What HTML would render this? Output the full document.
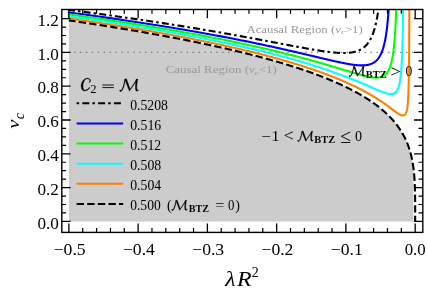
<!DOCTYPE html>
<html><head><meta charset="utf-8"><title>plot</title>
<style>
html,body{margin:0;padding:0;background:#fff;}
body{width:427px;height:298px;overflow:hidden;font-family:"Liberation Serif",serif;}
svg{display:block;will-change:transform;}
text{font-family:"Liberation Serif",serif;}
.it{font-style:italic;}
.b{font-weight:bold;}
</style></head><body>
<svg width="427" height="298" viewBox="0 0 427 298">
<rect x="0" y="0" width="427" height="298" fill="#fff"/>
<defs><clipPath id="ax"><rect x="61.8" y="9.5" width="361.0" height="222.9"/></clipPath></defs>

<path d="M68.87,20.42 L70.95,20.73 L73.02,21.03 L75.08,21.33 L77.13,21.63 L79.18,21.94 L81.21,22.24 L83.24,22.54 L85.26,22.85 L87.27,23.15 L89.28,23.45 L91.27,23.76 L93.26,24.06 L95.24,24.36 L97.21,24.67 L99.17,24.97 L101.12,25.28 L103.07,25.58 L105.01,25.89 L106.94,26.19 L108.86,26.50 L110.78,26.80 L112.68,27.11 L114.58,27.41 L116.47,27.72 L118.35,28.02 L120.23,28.33 L122.10,28.64 L123.96,28.94 L125.81,29.25 L127.65,29.56 L129.48,29.86 L131.31,30.17 L133.13,30.48 L134.94,30.78 L136.75,31.09 L138.54,31.40 L140.33,31.71 L142.11,32.02 L143.89,32.32 L145.65,32.63 L147.41,32.94 L149.16,33.25 L150.90,33.56 L152.64,33.87 L154.36,34.18 L156.08,34.49 L157.80,34.80 L159.50,35.10 L161.20,35.41 L162.89,35.72 L164.57,36.04 L166.24,36.35 L167.91,36.66 L169.57,36.97 L171.22,37.28 L172.87,37.59 L174.50,37.90 L176.13,38.21 L177.75,38.52 L179.37,38.84 L180.98,39.15 L182.58,39.46 L184.17,39.77 L185.76,40.08 L187.34,40.40 L188.91,40.71 L190.47,41.02 L192.03,41.34 L193.58,41.65 L195.12,41.96 L196.65,42.28 L198.18,42.59 L199.70,42.91 L201.22,43.22 L202.72,43.53 L204.22,43.85 L205.72,44.16 L207.20,44.48 L208.68,44.79 L210.15,45.11 L211.62,45.42 L213.07,45.74 L214.52,46.06 L215.97,46.37 L217.40,46.69 L218.83,47.01 L220.26,47.32 L221.67,47.64 L223.08,47.96 L224.48,48.27 L225.88,48.59 L227.27,48.91 L228.65,49.23 L230.02,49.55 L231.39,49.86 L232.75,50.18 L234.11,50.50 L235.46,50.82 L236.80,51.14 L238.13,51.46 L239.46,51.78 L240.78,52.10 L242.09,52.42 L243.40,52.74 L244.70,53.06 L246.00,53.38 L247.29,53.70 L248.57,54.02 L249.84,54.34 L251.11,54.66 L252.37,54.98 L253.63,55.31 L254.88,55.63 L256.12,55.95 L257.36,56.27 L258.59,56.60 L259.81,56.92 L261.03,57.24 L262.24,57.57 L263.44,57.89 L264.64,58.21 L265.83,58.54 L267.02,58.86 L268.19,59.18 L269.37,59.51 L270.53,59.83 L271.69,60.16 L272.85,60.48 L274.00,60.81 L275.14,61.14 L276.27,61.46 L277.40,61.79 L278.52,62.11 L279.64,62.44 L280.75,62.77 L281.86,63.09 L282.96,63.42 L284.05,63.75 L285.14,64.08 L286.22,64.40 L287.29,64.73 L288.36,65.06 L289.42,65.39 L290.48,65.72 L291.53,66.05 L292.57,66.38 L293.61,66.71 L294.65,67.03 L295.67,67.36 L296.69,67.70 L297.71,68.03 L298.72,68.36 L299.72,68.69 L300.72,69.02 L301.71,69.35 L302.70,69.68 L303.68,70.01 L304.66,70.35 L305.63,70.68 L306.59,71.01 L307.55,71.34 L308.50,71.68 L309.45,72.01 L310.39,72.34 L311.32,72.68 L312.25,73.01 L313.18,73.35 L314.10,73.68 L315.01,74.01 L315.92,74.35 L316.82,74.69 L317.72,75.02 L318.61,75.36 L319.49,75.69 L320.37,76.03 L321.25,76.37 L322.12,76.70 L322.98,77.04 L323.84,77.38 L324.70,77.71 L325.54,78.05 L326.39,78.39 L327.22,78.73 L328.06,79.07 L328.88,79.41 L329.71,79.75 L330.52,80.09 L331.33,80.43 L332.14,80.77 L332.94,81.11 L333.74,81.45 L334.53,81.79 L335.31,82.13 L336.09,82.47 L336.87,82.81 L337.64,83.15 L338.40,83.50 L339.16,83.84 L339.92,84.18 L340.67,84.53 L341.41,84.87 L342.15,85.21 L342.89,85.56 L343.62,85.90 L344.34,86.25 L345.06,86.59 L345.78,86.94 L346.49,87.28 L347.20,87.63 L347.90,87.97 L348.59,88.32 L349.28,88.67 L349.97,89.01 L350.65,89.36 L351.33,89.71 L352.00,90.06 L352.67,90.40 L353.33,90.75 L353.99,91.10 L354.64,91.45 L355.29,91.80 L355.93,92.15 L356.57,92.50 L357.21,92.85 L357.84,93.20 L358.46,93.55 L359.08,93.90 L359.70,94.26 L360.31,94.61 L360.92,94.96 L361.52,95.31 L362.12,95.67 L362.71,96.02 L363.30,96.37 L363.89,96.73 L364.47,97.08 L365.04,97.44 L365.62,97.79 L366.18,98.15 L366.75,98.50 L367.31,98.86 L367.86,99.21 L368.41,99.57 L368.96,99.93 L369.50,100.29 L370.04,100.64 L370.57,101.00 L371.10,101.36 L371.62,101.72 L372.14,102.08 L372.66,102.44 L373.17,102.80 L373.68,103.16 L374.18,103.52 L374.68,103.88 L375.18,104.24 L375.67,104.60 L376.16,104.97 L376.64,105.33 L377.12,105.69 L377.60,106.05 L378.07,106.42 L378.54,106.78 L379.00,107.15 L379.46,107.51 L379.92,107.88 L380.37,108.24 L380.82,108.61 L381.26,108.97 L381.70,109.34 L382.14,109.71 L382.57,110.08 L383.00,110.44 L383.42,110.81 L383.84,111.18 L384.26,111.55 L384.68,111.92 L385.09,112.29 L385.49,112.66 L385.90,113.03 L386.30,113.40 L386.69,113.77 L387.08,114.15 L387.47,114.52 L387.86,114.89 L388.24,115.27 L388.61,115.64 L388.99,116.01 L389.36,116.39 L389.73,116.76 L390.09,117.14 L390.45,117.52 L390.81,117.89 L391.16,118.27 L391.51,118.65 L391.85,119.03 L392.20,119.40 L392.54,119.78 L392.87,120.16 L393.21,120.54 L393.54,120.92 L393.86,121.30 L394.18,121.68 L394.50,122.07 L394.82,122.45 L395.13,122.83 L395.44,123.22 L395.75,123.60 L396.05,123.98 L396.35,124.37 L396.65,124.75 L396.94,125.14 L397.24,125.53 L397.52,125.91 L397.81,126.30 L398.09,126.69 L398.37,127.08 L398.64,127.46 L398.92,127.85 L399.19,128.24 L399.45,128.64 L399.71,129.03 L399.98,129.42 L400.23,129.81 L400.49,130.20 L400.74,130.60 L400.99,130.99 L401.23,131.38 L401.48,131.78 L401.72,132.18 L401.95,132.57 L402.19,132.97 L402.42,133.37 L402.65,133.76 L402.88,134.16 L403.10,134.56 L403.32,134.96 L403.54,135.36 L403.75,135.76 L403.97,136.17 L404.18,136.57 L404.38,136.97 L404.59,137.37 L404.79,137.78 L404.99,138.18 L405.19,138.59 L405.38,139.00 L405.57,139.40 L405.76,139.81 L405.95,140.22 L406.13,140.63 L406.32,141.04 L406.50,141.45 L406.67,141.86 L406.85,142.27 L407.02,142.68 L407.19,143.10 L407.36,143.51 L407.52,143.92 L407.68,144.34 L407.85,144.76 L408.00,145.17 L408.16,145.59 L408.31,146.01 L408.46,146.43 L408.61,146.85 L408.76,147.27 L408.90,147.69 L409.05,148.11 L409.19,148.54 L409.33,148.96 L409.46,149.39 L409.59,149.81 L409.73,150.24 L409.86,150.66 L409.98,151.09 L410.11,151.52 L410.23,151.95 L410.35,152.38 L410.47,152.82 L410.59,153.25 L410.71,153.68 L410.82,154.12 L410.93,154.55 L411.04,154.99 L411.15,155.43 L411.25,155.86 L411.36,156.30 L411.46,156.74 L411.56,157.18 L411.66,157.63 L411.76,158.07 L411.85,158.51 L411.94,158.96 L412.03,159.41 L412.12,159.85 L412.21,160.30 L412.30,160.75 L412.38,161.20 L412.47,161.66 L412.55,162.11 L412.63,162.56 L412.70,163.02 L412.78,163.48 L412.86,163.93 L412.93,164.39 L413.00,164.85 L413.07,165.31 L413.14,165.78 L413.21,166.24 L413.27,166.71 L413.33,167.17 L413.40,167.64 L413.46,168.11 L413.50,168.44 L413.50,221.40 L68.87,221.40 Z" fill="#cccccc" stroke="none" clip-path="url(#ax)"/>
<line x1="62.10" y1="52.40" x2="422.8" y2="52.40" stroke="#7a7a7a" stroke-width="1.3" stroke-dasharray="1.4 4.53"/>
<g clip-path="url(#ax)" fill="none" stroke-width="2.1" stroke-linejoin="round">
<path d="M68.87,9.92 L70.77,10.16 L72.67,10.41 L74.56,10.65 L76.44,10.90 L78.32,11.14 L80.19,11.39 L82.04,11.63 L83.90,11.88 L85.74,12.12 L87.58,12.37 L89.41,12.61 L91.23,12.85 L93.04,13.10 L94.85,13.34 L96.65,13.58 L98.44,13.83 L100.23,14.07 L102.00,14.31 L103.77,14.55 L105.54,14.80 L107.29,15.04 L109.04,15.28 L110.78,15.52 L112.51,15.76 L114.24,16.00 L115.96,16.24 L117.67,16.48 L119.37,16.72 L121.07,16.96 L122.76,17.20 L124.44,17.44 L126.12,17.68 L127.78,17.92 L129.45,18.16 L131.10,18.40 L132.75,18.64 L134.39,18.87 L136.02,19.11 L137.64,19.35 L139.26,19.59 L140.87,19.82 L142.48,20.06 L144.08,20.30 L145.67,20.53 L147.25,20.77 L148.83,21.01 L150.40,21.24 L151.96,21.48 L153.51,21.71 L155.06,21.95 L156.61,22.18 L158.14,22.41 L159.67,22.65 L161.19,22.88 L162.70,23.11 L164.21,23.35 L165.71,23.58 L167.21,23.81 L168.70,24.04 L170.18,24.27 L171.65,24.50 L173.12,24.73 L174.58,24.96 L176.03,25.19 L177.48,25.42 L178.92,25.65 L180.35,25.88 L181.78,26.11 L183.20,26.34 L184.62,26.57 L186.02,26.79 L187.42,27.02 L188.82,27.25 L190.21,27.47 L191.59,27.70 L192.96,27.92 L194.33,28.15 L195.69,28.37 L197.05,28.60 L198.40,28.82 L199.74,29.05 L201.08,29.27 L202.41,29.49 L203.73,29.71 L205.05,29.93 L206.36,30.16 L207.66,30.38 L208.96,30.60 L210.25,30.82 L211.54,31.04 L212.81,31.25 L214.09,31.47 L215.35,31.69 L216.62,31.91 L217.87,32.12 L219.12,32.34 L220.36,32.56 L221.59,32.77 L222.82,32.99 L224.05,33.20 L225.27,33.41 L226.48,33.63 L227.68,33.84 L228.88,34.05 L230.07,34.26 L231.26,34.47 L232.44,34.69 L233.62,34.89 L234.79,35.10 L235.95,35.31 L237.11,35.52 L238.26,35.73 L239.40,35.93 L240.54,36.14 L241.67,36.35 L242.80,36.55 L243.92,36.76 L245.04,36.96 L246.15,37.16 L247.25,37.36 L248.35,37.57 L249.44,37.77 L250.53,37.97 L251.61,38.17 L252.69,38.36 L253.75,38.56 L254.82,38.76 L255.88,38.96 L256.93,39.15 L257.98,39.35 L259.02,39.54 L260.05,39.73 L261.08,39.93 L262.11,40.12 L263.12,40.31 L264.14,40.50 L265.14,40.69 L266.15,40.88 L267.14,41.07 L268.13,41.25 L269.12,41.44 L270.10,41.62 L271.07,41.81 L272.04,41.99 L273.00,42.17 L273.96,42.36 L274.91,42.54 L275.86,42.72 L276.80,42.89 L277.74,43.07 L278.67,43.25 L279.60,43.43 L280.52,43.60 L281.43,43.77 L282.34,43.95 L283.25,44.12 L284.14,44.29 L285.04,44.46 L285.93,44.63 L286.81,44.79 L287.69,44.96 L288.56,45.13 L289.43,45.29 L290.29,45.45 L291.15,45.61 L292.00,45.78 L292.85,45.93 L293.69,46.09 L294.53,46.25 L295.36,46.41 L296.19,46.56 L297.01,46.71 L297.83,46.87 L298.64,47.02 L299.45,47.17 L300.25,47.31 L301.05,47.46 L301.84,47.60 L302.63,47.75 L303.41,47.89 L304.19,48.03 L304.96,48.17 L305.73,48.31 L306.49,48.45 L307.25,48.58 L308.00,48.72 L308.75,48.85 L309.50,48.98 L310.24,49.11 L310.97,49.23 L311.70,49.36 L312.42,49.48 L313.14,49.61 L313.86,49.73 L314.57,49.85 L315.28,49.96 L315.98,50.08 L316.67,50.19 L317.37,50.30 L318.05,50.41 L318.74,50.52 L319.42,50.63 L320.09,50.73 L320.76,50.84 L321.42,50.94 L322.08,51.03 L322.74,51.13 L323.39,51.23 L324.04,51.32 L324.68,51.41 L325.32,51.50 L325.95,51.58 L326.58,51.67 L327.21,51.75 L327.83,51.83 L328.44,51.91 L329.05,51.98 L329.66,52.05 L330.27,52.12 L330.86,52.19 L331.46,52.26 L332.05,52.32 L332.64,52.38 L333.22,52.44 L333.79,52.49 L334.37,52.54 L334.94,52.59 L335.50,52.64 L336.06,52.68 L336.62,52.73 L337.17,52.77 L337.72,52.80 L338.27,52.83 L338.81,52.86 L339.34,52.89 L339.87,52.91 L340.40,52.94 L340.93,52.95 L341.45,52.97 L341.96,52.98 L342.48,52.99 L342.98,52.99 L343.49,52.99 L343.99,52.99 L344.48,52.99 L344.98,52.98 L345.47,52.96 L345.95,52.95 L346.43,52.93 L346.91,52.90 L347.38,52.88 L347.85,52.84 L348.32,52.81 L348.78,52.77 L349.24,52.73 L349.69,52.68 L350.14,52.63 L350.59,52.57 L351.03,52.51 L351.47,52.45 L351.91,52.38 L352.34,52.30 L352.77,52.22 L353.20,52.14 L353.62,52.05 L354.04,51.96 L354.45,51.86 L354.86,51.76 L355.27,51.65 L355.67,51.54 L356.07,51.42 L356.47,51.30 L356.86,51.17 L357.25,51.03 L357.64,50.89 L358.02,50.74 L358.40,50.59 L358.78,50.43 L359.15,50.27 L359.52,50.10 L359.88,49.92 L360.25,49.74 L360.61,49.55 L360.96,49.36 L361.32,49.15 L361.66,48.94 L362.01,48.73 L362.35,48.50 L362.69,48.27 L363.03,48.04 L363.36,47.79 L363.69,47.54 L364.02,47.28 L364.34,47.01 L364.66,46.73 L364.98,46.45 L365.30,46.15 L365.61,45.85 L365.92,45.54 L366.22,45.22 L366.52,44.89 L366.82,44.56 L367.12,44.21 L367.41,43.85 L367.70,43.49 L367.99,43.11 L368.27,42.73 L368.55,42.33 L368.83,41.92 L369.11,41.50 L369.38,41.08 L369.65,40.64 L369.91,40.19 L370.18,39.72 L370.44,39.25 L370.70,38.76 L370.95,38.26 L371.21,37.75 L371.46,37.23 L371.70,36.69 L371.95,36.14 L372.19,35.58 L372.43,35.00 L372.66,34.41 L372.90,33.80 L373.13,33.18 L373.36,32.54 L373.58,31.89 L373.80,31.22 L374.02,30.54 L374.24,29.84 L374.46,29.12 L374.67,28.39 L374.88,27.63 L375.09,26.86 L375.29,26.08 L375.49,25.27 L375.69,24.44 L375.89,23.59 L376.09,22.73 L376.28,21.84 L376.47,20.93 L376.66,20.00 L376.84,19.05 L377.02,18.07 L377.21,17.08 L377.38,16.06 L377.56,15.01 L377.73,13.94 L377.90,12.84 L378.07,11.72 L378.24,10.57 L378.41,9.39 L378.57,8.19 L378.73,6.95 L378.89,5.69 L379.04,4.40 L379.19,3.07 L379.35,1.72 L379.49,0.33 L379.64,-1.09 L379.79,-2.55 L379.93,-4.04 L380.07,-5.57 L380.21,-7.14 L380.35,-8.74 L380.48,-10.38 L380.61,-12.07 L380.74,-13.79 L380.87,-15.56 L381.00,-17.37 L381.12,-19.23 L381.25,-21.13 L381.37,-23.08 L381.49,-25.08 L381.60,-27.12 L381.72,-29.23 L381.83,-31.38 L381.94,-33.59 L382.05,-35.85 L382.16,-38.18 L382.26,-40.56 L382.37,-43.01 L382.47,-45.51 L382.57,-48.09" stroke="#000" stroke-dasharray="7.0 3.1 2.5 3.2" stroke-dashoffset="0.9"/>
<path d="M68.87,12.44 L70.81,12.70 L72.75,12.96 L74.68,13.22 L76.60,13.48 L78.52,13.74 L80.42,13.99 L82.32,14.25 L84.21,14.51 L86.09,14.77 L87.97,15.03 L89.84,15.29 L91.70,15.54 L93.55,15.80 L95.39,16.06 L97.23,16.32 L99.06,16.58 L100.88,16.83 L102.70,17.09 L104.50,17.35 L106.30,17.61 L108.09,17.86 L109.88,18.12 L111.66,18.38 L113.43,18.63 L115.19,18.89 L116.94,19.15 L118.69,19.40 L120.43,19.66 L122.16,19.91 L123.89,20.17 L125.60,20.43 L127.32,20.68 L129.02,20.94 L130.71,21.19 L132.40,21.45 L134.08,21.70 L135.76,21.96 L137.43,22.21 L139.08,22.47 L140.74,22.72 L142.38,22.97 L144.02,23.23 L145.65,23.48 L147.28,23.74 L148.89,23.99 L150.50,24.24 L152.10,24.49 L153.70,24.75 L155.29,25.00 L156.87,25.25 L158.44,25.51 L160.01,25.76 L161.57,26.01 L163.12,26.26 L164.67,26.51 L166.21,26.76 L167.74,27.02 L169.27,27.27 L170.79,27.52 L172.30,27.77 L173.80,28.02 L175.30,28.27 L176.79,28.52 L178.28,28.77 L179.75,29.02 L181.22,29.27 L182.69,29.52 L184.14,29.76 L185.60,30.01 L187.04,30.26 L188.48,30.51 L189.91,30.76 L191.33,31.00 L192.75,31.25 L194.16,31.50 L195.56,31.75 L196.96,31.99 L198.35,32.24 L199.73,32.48 L201.11,32.73 L202.48,32.98 L203.84,33.22 L205.20,33.47 L206.55,33.71 L207.90,33.95 L209.24,34.20 L210.57,34.44 L211.89,34.69 L213.21,34.93 L214.52,35.17 L215.83,35.41 L217.13,35.66 L218.42,35.90 L219.71,36.14 L220.99,36.38 L222.26,36.62 L223.53,36.86 L224.79,37.10 L226.05,37.34 L227.30,37.58 L228.54,37.82 L229.78,38.06 L231.01,38.30 L232.23,38.53 L233.45,38.77 L234.66,39.01 L235.87,39.24 L237.07,39.48 L238.26,39.72 L239.45,39.95 L240.63,40.19 L241.80,40.42 L242.97,40.66 L244.14,40.89 L245.29,41.12 L246.44,41.36 L247.59,41.59 L248.73,41.82 L249.86,42.05 L250.99,42.28 L252.11,42.51 L253.22,42.74 L254.33,42.97 L255.44,43.20 L256.54,43.43 L257.63,43.66 L258.71,43.89 L259.79,44.11 L260.87,44.34 L261.94,44.57 L263.00,44.79 L264.06,45.02 L265.11,45.24 L266.15,45.47 L267.19,45.69 L268.23,45.91 L269.25,46.14 L270.28,46.36 L271.29,46.58 L272.31,46.80 L273.31,47.02 L274.31,47.24 L275.31,47.46 L276.30,47.67 L277.28,47.89 L278.26,48.11 L279.23,48.32 L280.20,48.54 L281.16,48.76 L282.11,48.97 L283.06,49.18 L284.01,49.40 L284.95,49.61 L285.88,49.82 L286.81,50.03 L287.74,50.24 L288.65,50.45 L289.57,50.66 L290.47,50.86 L291.38,51.07 L292.27,51.28 L293.16,51.48 L294.05,51.69 L294.93,51.89 L295.81,52.09 L296.68,52.29 L297.54,52.50 L298.40,52.70 L299.26,52.90 L300.11,53.09 L300.95,53.29 L301.79,53.49 L302.62,53.68 L303.45,53.88 L304.28,54.07 L305.10,54.27 L305.91,54.46 L306.72,54.65 L307.52,54.84 L308.32,55.03 L309.12,55.22 L309.91,55.40 L310.69,55.59 L311.47,55.77 L312.24,55.96 L313.01,56.14 L313.78,56.32 L314.54,56.50 L315.29,56.68 L316.04,56.86 L316.78,57.04 L317.52,57.21 L318.26,57.39 L318.99,57.56 L319.72,57.73 L320.44,57.90 L321.15,58.07 L321.86,58.24 L322.57,58.41 L323.27,58.57 L323.97,58.74 L324.66,58.90 L325.35,59.06 L326.03,59.22 L326.71,59.38 L327.39,59.54 L328.06,59.70 L328.72,59.85 L329.38,60.00 L330.04,60.15 L330.69,60.30 L331.34,60.45 L331.98,60.60 L332.62,60.74 L333.25,60.89 L333.88,61.03 L334.50,61.17 L335.12,61.31 L335.74,61.45 L336.35,61.58 L336.96,61.71 L337.56,61.84 L338.16,61.97 L338.75,62.10 L339.34,62.23 L339.93,62.35 L340.51,62.47 L341.09,62.59 L341.66,62.71 L342.23,62.83 L342.79,62.94 L343.35,63.05 L343.91,63.16 L344.46,63.27 L345.01,63.38 L345.55,63.48 L346.09,63.58 L346.62,63.68 L347.16,63.78 L347.68,63.87 L348.21,63.96 L348.72,64.05 L349.24,64.14 L349.75,64.22 L350.26,64.30 L350.76,64.38 L351.26,64.46 L351.75,64.53 L352.25,64.60 L352.73,64.67 L353.22,64.74 L353.69,64.80 L354.17,64.86 L354.64,64.92 L355.11,64.97 L355.57,65.02 L356.03,65.07 L356.49,65.11 L356.94,65.15 L357.39,65.19 L357.84,65.23 L358.28,65.26 L358.72,65.29 L359.15,65.31 L359.58,65.33 L360.01,65.35 L360.43,65.36 L360.85,65.38 L361.27,65.38 L361.68,65.38 L362.09,65.38 L362.49,65.38 L362.89,65.37 L363.29,65.36 L363.69,65.34 L364.08,65.32 L364.46,65.29 L364.85,65.26 L365.23,65.23 L365.61,65.19 L365.98,65.14 L366.35,65.10 L366.72,65.04 L367.08,64.98 L367.44,64.92 L367.80,64.85 L368.15,64.78 L368.50,64.70 L368.85,64.62 L369.19,64.53 L369.53,64.43 L369.87,64.33 L370.20,64.23 L370.53,64.12 L370.86,64.00 L371.18,63.87 L371.50,63.75 L371.82,63.61 L372.14,63.47 L372.45,63.32 L372.76,63.16 L373.06,63.00 L373.36,62.83 L373.66,62.65 L373.96,62.47 L374.25,62.28 L374.54,62.08 L374.83,61.87 L375.11,61.66 L375.39,61.44 L375.67,61.21 L375.95,60.97 L376.22,60.72 L376.49,60.47 L376.76,60.20 L377.02,59.93 L377.28,59.65 L377.54,59.36 L377.79,59.06 L378.04,58.74 L378.29,58.42 L378.54,58.09 L378.78,57.75 L379.03,57.40 L379.26,57.04 L379.50,56.66 L379.73,56.28 L379.96,55.88 L380.19,55.47 L380.41,55.05 L380.64,54.62 L380.86,54.17 L381.07,53.72 L381.29,53.24 L381.50,52.76 L381.71,52.26 L381.92,51.75 L382.12,51.22 L382.32,50.68 L382.52,50.12 L382.72,49.55 L382.91,48.96 L383.10,48.35 L383.29,47.73 L383.48,47.09 L383.66,46.44 L383.84,45.76 L384.02,45.07 L384.20,44.36 L384.38,43.63 L384.55,42.88 L384.72,42.11 L384.89,41.32 L385.05,40.51 L385.22,39.67 L385.38,38.81 L385.54,37.94 L385.69,37.03 L385.85,36.11 L386.00,35.15 L386.15,34.18 L386.30,33.17 L386.44,32.14 L386.59,31.09 L386.73,30.00 L386.87,28.88 L387.01,27.74 L387.14,26.56 L387.27,25.36 L387.41,24.12 L387.54,22.84 L387.66,21.54 L387.79,20.19 L387.91,18.82 L388.03,17.40 L388.15,15.94 L388.27,14.45 L388.38,12.91 L388.50,11.34 L388.61,9.72 L388.72,8.05 L388.83,6.34 L388.93,4.58 L389.04,2.78 L389.14,0.92 L389.24,-0.99 L389.34,-2.95 L389.44,-4.97 L389.53,-7.05 L389.63,-9.18 L389.72,-11.38 L389.81,-13.63 L389.90,-15.96 L389.99,-18.35 L390.07,-20.81 L390.16,-23.34 L390.24,-25.94 L390.32,-28.63 L390.40,-31.39 L390.47,-34.24 L390.55,-37.17 L390.63,-40.19 L390.70,-43.30 L390.77,-46.50" stroke="#0000ff" stroke-linecap="square"/>
<path d="M68.87,14.47 L70.85,14.74 L72.82,15.01 L74.78,15.28 L76.73,15.55 L78.68,15.82 L80.62,16.09 L82.55,16.36 L84.47,16.63 L86.39,16.90 L88.30,17.17 L90.20,17.44 L92.09,17.71 L93.97,17.98 L95.85,18.25 L97.72,18.52 L99.58,18.79 L101.43,19.06 L103.28,19.33 L105.11,19.59 L106.94,19.86 L108.77,20.13 L110.58,20.40 L112.39,20.67 L114.19,20.94 L115.98,21.21 L117.76,21.48 L119.54,21.75 L121.31,22.02 L123.07,22.28 L124.83,22.55 L126.57,22.82 L128.31,23.09 L130.05,23.36 L131.77,23.63 L133.49,23.90 L135.20,24.16 L136.90,24.43 L138.60,24.70 L140.28,24.97 L141.97,25.24 L143.64,25.50 L145.31,25.77 L146.96,26.04 L148.62,26.31 L150.26,26.57 L151.90,26.84 L153.53,27.11 L155.15,27.38 L156.76,27.64 L158.37,27.91 L159.97,28.18 L161.57,28.44 L163.16,28.71 L164.73,28.98 L166.31,29.24 L167.87,29.51 L169.43,29.78 L170.98,30.04 L172.53,30.31 L174.07,30.57 L175.60,30.84 L177.12,31.11 L178.64,31.37 L180.15,31.64 L181.65,31.90 L183.14,32.17 L184.63,32.43 L186.12,32.70 L187.59,32.96 L189.06,33.23 L190.52,33.49 L191.98,33.76 L193.42,34.02 L194.86,34.28 L196.30,34.55 L197.73,34.81 L199.15,35.08 L200.56,35.34 L201.97,35.60 L203.37,35.87 L204.76,36.13 L206.15,36.39 L207.53,36.65 L208.91,36.92 L210.27,37.18 L211.63,37.44 L212.99,37.70 L214.34,37.97 L215.68,38.23 L217.01,38.49 L218.34,38.75 L219.66,39.01 L220.98,39.27 L222.29,39.53 L223.59,39.79 L224.89,40.05 L226.18,40.31 L227.46,40.57 L228.74,40.83 L230.01,41.09 L231.27,41.35 L232.53,41.61 L233.78,41.87 L235.02,42.13 L236.26,42.38 L237.50,42.64 L238.72,42.90 L239.94,43.16 L241.16,43.41 L242.36,43.67 L243.56,43.93 L244.76,44.18 L245.95,44.44 L247.13,44.70 L248.31,44.95 L249.48,45.21 L250.64,45.46 L251.80,45.72 L252.95,45.97 L254.10,46.23 L255.24,46.48 L256.38,46.73 L257.50,46.99 L258.63,47.24 L259.74,47.49 L260.85,47.74 L261.96,48.00 L263.06,48.25 L264.15,48.50 L265.24,48.75 L266.32,49.00 L267.39,49.25 L268.46,49.50 L269.52,49.75 L270.58,50.00 L271.63,50.25 L272.68,50.50 L273.72,50.74 L274.75,50.99 L275.78,51.24 L276.81,51.48 L277.82,51.73 L278.84,51.98 L279.84,52.22 L280.84,52.47 L281.84,52.71 L282.83,52.96 L283.81,53.20 L284.79,53.44 L285.76,53.69 L286.73,53.93 L287.69,54.17 L288.64,54.41 L289.59,54.65 L290.54,54.89 L291.48,55.13 L292.41,55.37 L293.34,55.61 L294.26,55.85 L295.18,56.09 L296.09,56.33 L297.00,56.56 L297.90,56.80 L298.79,57.04 L299.69,57.27 L300.57,57.51 L301.45,57.74 L302.33,57.97 L303.20,58.21 L304.06,58.44 L304.92,58.67 L305.77,58.90 L306.62,59.13 L307.46,59.36 L308.30,59.59 L309.14,59.82 L309.96,60.05 L310.79,60.27 L311.60,60.50 L312.42,60.73 L313.22,60.95 L314.03,61.18 L314.82,61.40 L315.62,61.62 L316.40,61.84 L317.19,62.07 L317.96,62.29 L318.73,62.51 L319.50,62.72 L320.26,62.94 L321.02,63.16 L321.78,63.38 L322.52,63.59 L323.27,63.81 L324.00,64.02 L324.74,64.23 L325.47,64.45 L326.19,64.66 L326.91,64.87 L327.62,65.08 L328.33,65.29 L329.04,65.49 L329.74,65.70 L330.43,65.91 L331.12,66.11 L331.81,66.31 L332.49,66.52 L333.16,66.72 L333.84,66.92 L334.50,67.12 L335.17,67.32 L335.82,67.51 L336.48,67.71 L337.13,67.91 L337.77,68.10 L338.41,68.29 L339.04,68.48 L339.68,68.67 L340.30,68.86 L340.92,69.05 L341.54,69.24 L342.15,69.42 L342.76,69.61 L343.37,69.79 L343.97,69.97 L344.56,70.15 L345.15,70.33 L345.74,70.51 L346.32,70.68 L346.90,70.86 L347.47,71.03 L348.04,71.20 L348.61,71.37 L349.17,71.54 L349.73,71.70 L350.28,71.87 L350.83,72.03 L351.37,72.19 L351.91,72.35 L352.45,72.51 L352.98,72.67 L353.51,72.82 L354.03,72.98 L354.55,73.13 L355.07,73.28 L355.58,73.43 L356.09,73.57 L356.59,73.72 L357.09,73.86 L357.58,74.00 L358.08,74.14 L358.56,74.27 L359.05,74.41 L359.53,74.54 L360.00,74.67 L360.47,74.80 L360.94,74.92 L361.41,75.04 L361.87,75.16 L362.32,75.28 L362.78,75.40 L363.23,75.51 L363.67,75.62 L364.11,75.73 L364.55,75.84 L364.98,75.94 L365.41,76.04 L365.84,76.14 L366.26,76.24 L366.68,76.33 L367.10,76.42 L367.51,76.51 L367.92,76.59 L368.32,76.67 L368.73,76.75 L369.12,76.83 L369.52,76.90 L369.91,76.97 L370.29,77.03 L370.68,77.10 L371.06,77.15 L371.43,77.21 L371.81,77.26 L372.18,77.31 L372.54,77.36 L372.91,77.40 L373.27,77.44 L373.62,77.47 L373.97,77.50 L374.32,77.53 L374.67,77.55 L375.01,77.57 L375.35,77.58 L375.69,77.59 L376.02,77.60 L376.35,77.60 L376.68,77.59 L377.00,77.59 L377.32,77.57 L377.64,77.56 L377.95,77.53 L378.26,77.51 L378.57,77.48 L378.87,77.44 L379.17,77.40 L379.47,77.35 L379.77,77.30 L380.06,77.24 L380.35,77.17 L380.63,77.10 L380.92,77.03 L381.20,76.94 L381.47,76.86 L381.75,76.76 L382.02,76.66 L382.29,76.55 L382.55,76.44 L382.81,76.32 L383.07,76.19 L383.33,76.06 L383.58,75.91 L383.83,75.76 L384.08,75.61 L384.33,75.44 L384.57,75.27 L384.81,75.09 L385.05,74.90 L385.28,74.70 L385.51,74.50 L385.74,74.28 L385.97,74.06 L386.19,73.82 L386.41,73.58 L386.63,73.33 L386.84,73.07 L387.06,72.80 L387.27,72.51 L387.47,72.22 L387.68,71.92 L387.88,71.60 L388.08,71.27 L388.28,70.93 L388.47,70.58 L388.67,70.22 L388.86,69.85 L389.04,69.46 L389.23,69.06 L389.41,68.64 L389.59,68.22 L389.77,67.77 L389.95,67.32 L390.12,66.84 L390.29,66.36 L390.46,65.85 L390.62,65.34 L390.79,64.80 L390.95,64.25 L391.11,63.68 L391.27,63.09 L391.42,62.48 L391.57,61.86 L391.72,61.21 L391.87,60.55 L392.02,59.87 L392.16,59.16 L392.30,58.43 L392.44,57.68 L392.58,56.91 L392.72,56.12 L392.85,55.30 L392.98,54.45 L393.11,53.58 L393.24,52.68 L393.36,51.76 L393.49,50.81 L393.61,49.83 L393.73,48.82 L393.85,47.78 L393.96,46.70 L394.08,45.60 L394.19,44.46 L394.30,43.29 L394.41,42.08 L394.51,40.84 L394.62,39.55 L394.72,38.23 L394.82,36.87 L394.92,35.47 L395.02,34.02 L395.11,32.53 L395.20,30.99 L395.30,29.41 L395.39,27.77 L395.48,26.09 L395.56,24.35 L395.65,22.56 L395.73,20.71 L395.81,18.81 L395.89,16.84 L395.97,14.81 L396.05,12.72 L396.13,10.56 L396.20,8.33 L396.27,6.03 L396.34,3.65 L396.41,1.19 L396.48,-1.35 L396.55,-3.97 L396.61,-6.67 L396.68,-9.47 L396.74,-12.37 L396.80,-15.36 L396.86,-18.45 L396.92,-21.65 L396.97,-24.97 L397.03,-28.40 L397.08,-31.94 L397.14,-35.62 L397.19,-39.43 L397.24,-43.37 L397.29,-47.46" stroke="#00ff00" stroke-linecap="square"/>
<path d="M68.87,16.49 L70.88,16.77 L72.88,17.05 L74.88,17.33 L76.87,17.61 L78.85,17.89 L80.82,18.17 L82.78,18.45 L84.74,18.73 L86.68,19.02 L88.62,19.30 L90.55,19.58 L92.48,19.86 L94.39,20.14 L96.30,20.42 L98.20,20.70 L100.09,20.98 L101.98,21.27 L103.85,21.55 L105.72,21.83 L107.58,22.11 L109.44,22.39 L111.28,22.67 L113.12,22.95 L114.95,23.24 L116.77,23.52 L118.59,23.80 L120.39,24.08 L122.19,24.36 L123.98,24.64 L125.77,24.92 L127.54,25.21 L129.31,25.49 L131.07,25.77 L132.83,26.05 L134.57,26.33 L136.31,26.61 L138.05,26.89 L139.77,27.18 L141.49,27.46 L143.19,27.74 L144.90,28.02 L146.59,28.30 L148.28,28.58 L149.96,28.87 L151.63,29.15 L153.29,29.43 L154.95,29.71 L156.60,29.99 L158.24,30.27 L159.88,30.56 L161.51,30.84 L163.13,31.12 L164.74,31.40 L166.35,31.68 L167.95,31.96 L169.54,32.24 L171.12,32.53 L172.70,32.81 L174.27,33.09 L175.83,33.37 L177.39,33.65 L178.94,33.93 L180.48,34.21 L182.02,34.50 L183.54,34.78 L185.07,35.06 L186.58,35.34 L188.09,35.62 L189.59,35.90 L191.08,36.18 L192.57,36.46 L194.04,36.75 L195.52,37.03 L196.98,37.31 L198.44,37.59 L199.89,37.87 L201.34,38.15 L202.77,38.43 L204.21,38.71 L205.63,38.99 L207.05,39.27 L208.46,39.55 L209.86,39.83 L211.26,40.12 L212.65,40.40 L214.03,40.68 L215.41,40.96 L216.78,41.24 L218.15,41.52 L219.50,41.80 L220.85,42.08 L222.20,42.36 L223.54,42.64 L224.87,42.92 L226.19,43.20 L227.51,43.48 L228.82,43.76 L230.12,44.04 L231.42,44.32 L232.71,44.60 L234.00,44.88 L235.28,45.15 L236.55,45.43 L237.82,45.71 L239.08,45.99 L240.33,46.27 L241.58,46.55 L242.82,46.83 L244.05,47.11 L245.28,47.39 L246.50,47.66 L247.72,47.94 L248.93,48.22 L250.13,48.50 L251.32,48.78 L252.51,49.06 L253.70,49.33 L254.88,49.61 L256.05,49.89 L257.21,50.17 L258.37,50.44 L259.53,50.72 L260.67,51.00 L261.82,51.27 L262.95,51.55 L264.08,51.83 L265.20,52.10 L266.32,52.38 L267.43,52.66 L268.54,52.93 L269.64,53.21 L270.73,53.48 L271.82,53.76 L272.90,54.03 L273.97,54.31 L275.04,54.58 L276.11,54.86 L277.16,55.13 L278.21,55.41 L279.26,55.68 L280.30,55.96 L281.34,56.23 L282.36,56.50 L283.39,56.78 L284.40,57.05 L285.42,57.32 L286.42,57.60 L287.42,57.87 L288.42,58.14 L289.40,58.41 L290.39,58.69 L291.36,58.96 L292.34,59.23 L293.30,59.50 L294.26,59.77 L295.22,60.04 L296.17,60.31 L297.11,60.58 L298.05,60.85 L298.98,61.12 L299.91,61.39 L300.83,61.66 L301.75,61.93 L302.66,62.20 L303.56,62.47 L304.47,62.74 L305.36,63.00 L306.25,63.27 L307.13,63.54 L308.01,63.80 L308.89,64.07 L309.75,64.34 L310.62,64.60 L311.47,64.87 L312.33,65.13 L313.17,65.40 L314.02,65.66 L314.85,65.93 L315.68,66.19 L316.51,66.45 L317.33,66.72 L318.15,66.98 L318.96,67.24 L319.76,67.50 L320.56,67.76 L321.36,68.02 L322.15,68.29 L322.93,68.55 L323.71,68.81 L324.49,69.06 L325.26,69.32 L326.03,69.58 L326.79,69.84 L327.54,70.10 L328.29,70.35 L329.04,70.61 L329.78,70.87 L330.51,71.12 L331.24,71.38 L331.97,71.63 L332.69,71.88 L333.41,72.14 L334.12,72.39 L334.83,72.64 L335.53,72.89 L336.23,73.14 L336.92,73.40 L337.61,73.64 L338.29,73.89 L338.97,74.14 L339.64,74.39 L340.31,74.64 L340.97,74.89 L341.63,75.13 L342.29,75.38 L342.94,75.62 L343.59,75.87 L344.23,76.11 L344.86,76.35 L345.50,76.59 L346.12,76.83 L346.75,77.08 L347.37,77.32 L347.98,77.55 L348.59,77.79 L349.20,78.03 L349.80,78.27 L350.39,78.50 L350.99,78.74 L351.57,78.97 L352.16,79.20 L352.74,79.44 L353.31,79.67 L353.88,79.90 L354.45,80.13 L355.01,80.36 L355.57,80.59 L356.12,80.81 L356.67,81.04 L357.21,81.26 L357.76,81.49 L358.29,81.71 L358.82,81.93 L359.35,82.15 L359.88,82.37 L360.40,82.59 L360.91,82.81 L361.43,83.02 L361.93,83.24 L362.44,83.45 L362.94,83.67 L363.43,83.88 L363.92,84.09 L364.41,84.30 L364.90,84.51 L365.38,84.71 L365.85,84.92 L366.32,85.12 L366.79,85.32 L367.26,85.53 L367.72,85.73 L368.17,85.92 L368.63,86.12 L369.07,86.32 L369.52,86.51 L369.96,86.70 L370.40,86.89 L370.83,87.08 L371.26,87.27 L371.69,87.46 L372.11,87.64 L372.53,87.82 L372.95,88.00 L373.36,88.18 L373.76,88.36 L374.17,88.54 L374.57,88.71 L374.97,88.88 L375.36,89.05 L375.75,89.22 L376.14,89.38 L376.52,89.55 L376.90,89.71 L377.27,89.87 L377.65,90.03 L378.02,90.18 L378.38,90.33 L378.74,90.49 L379.10,90.63 L379.46,90.78 L379.81,90.92 L380.16,91.07 L380.50,91.20 L380.84,91.34 L381.18,91.47 L381.52,91.61 L381.85,91.73 L382.18,91.86 L382.50,91.98 L382.83,92.10 L383.15,92.22 L383.46,92.33 L383.77,92.44 L384.08,92.55 L384.39,92.66 L384.69,92.76 L384.99,92.86 L385.29,92.95 L385.58,93.04 L385.87,93.13 L386.16,93.22 L386.45,93.30 L386.73,93.38 L387.01,93.45 L387.28,93.52 L387.55,93.59 L387.82,93.65 L388.09,93.71 L388.35,93.76 L388.61,93.81 L388.87,93.86 L389.13,93.90 L389.38,93.93 L389.63,93.96 L389.88,93.99 L390.12,94.01 L390.36,94.03 L390.60,94.04 L390.83,94.05 L391.07,94.05 L391.30,94.05 L391.52,94.04 L391.75,94.02 L391.97,94.00 L392.19,93.97 L392.40,93.94 L392.62,93.90 L392.83,93.86 L393.04,93.81 L393.24,93.75 L393.45,93.68 L393.65,93.61 L393.85,93.53 L394.04,93.44 L394.23,93.35 L394.42,93.25 L394.61,93.14 L394.80,93.02 L394.98,92.89 L395.16,92.76 L395.34,92.61 L395.52,92.46 L395.69,92.30 L395.86,92.13 L396.03,91.95 L396.20,91.76 L396.36,91.55 L396.52,91.34 L396.68,91.12 L396.84,90.89 L397.00,90.64 L397.15,90.39 L397.30,90.12 L397.45,89.84 L397.60,89.54 L397.74,89.23 L397.88,88.91 L398.02,88.58 L398.16,88.23 L398.30,87.87 L398.43,87.49 L398.56,87.10 L398.69,86.69 L398.82,86.26 L398.94,85.81 L399.07,85.35 L399.19,84.87 L399.31,84.38 L399.43,83.86 L399.54,83.32 L399.65,82.76 L399.77,82.18 L399.88,81.58 L399.98,80.96 L400.09,80.31 L400.19,79.64 L400.30,78.94 L400.40,78.22 L400.50,77.47 L400.59,76.69 L400.69,75.89 L400.78,75.05 L400.87,74.19 L400.96,73.29 L401.05,72.36 L401.14,71.40 L401.22,70.40 L401.31,69.36 L401.39,68.28 L401.47,67.17 L401.55,66.02 L401.63,64.82 L401.70,63.58 L401.77,62.29 L401.85,60.95 L401.92,59.57 L401.99,58.13 L402.05,56.64 L402.12,55.10 L402.19,53.50 L402.25,51.83 L402.31,50.11 L402.37,48.31 L402.43,46.45 L402.49,44.52 L402.55,42.52 L402.60,40.43 L402.65,38.27 L402.71,36.02 L402.76,33.68 L402.81,31.25 L402.86,28.72 L402.90,26.09 L402.95,23.35 L402.99,20.50 L403.04,17.54 L403.08,14.45 L403.12,11.23 L403.16,7.88 L403.20,4.39 L403.24,0.74 L403.28,-3.06 L403.31,-7.03 L403.35,-11.17 L403.38,-15.50 L403.41,-20.02 L403.44,-24.75 L403.48,-29.70 L403.50,-34.88 L403.53,-40.30 L403.56,-45.98" stroke="#00ffff" stroke-linecap="square"/>
<path d="M68.87,18.48 L70.91,18.78 L72.95,19.07 L74.98,19.36 L77.00,19.65 L79.01,19.94 L81.01,20.24 L83.01,20.53 L85.00,20.82 L86.98,21.11 L88.95,21.41 L90.91,21.70 L92.87,21.99 L94.81,22.28 L96.75,22.58 L98.69,22.87 L100.61,23.16 L102.52,23.46 L104.43,23.75 L106.33,24.04 L108.22,24.34 L110.11,24.63 L111.98,24.92 L113.85,25.22 L115.71,25.51 L117.56,25.80 L119.41,26.10 L121.24,26.39 L123.07,26.69 L124.89,26.98 L126.71,27.28 L128.51,27.57 L130.31,27.86 L132.10,28.16 L133.89,28.45 L135.66,28.75 L137.43,29.04 L139.19,29.34 L140.94,29.63 L142.69,29.93 L144.42,30.22 L146.15,30.52 L147.87,30.81 L149.59,31.11 L151.30,31.40 L153.00,31.70 L154.69,32.00 L156.37,32.29 L158.05,32.59 L159.72,32.88 L161.38,33.18 L163.04,33.48 L164.68,33.77 L166.32,34.07 L167.96,34.36 L169.58,34.66 L171.20,34.96 L172.81,35.25 L174.42,35.55 L176.01,35.85 L177.60,36.14 L179.18,36.44 L180.76,36.74 L182.33,37.04 L183.89,37.33 L185.44,37.63 L186.99,37.93 L188.52,38.23 L190.06,38.52 L191.58,38.82 L193.10,39.12 L194.61,39.42 L196.11,39.71 L197.61,40.01 L199.10,40.31 L200.58,40.61 L202.06,40.91 L203.53,41.20 L204.99,41.50 L206.44,41.80 L207.89,42.10 L209.33,42.40 L210.77,42.70 L212.19,42.99 L213.61,43.29 L215.03,43.59 L216.43,43.89 L217.83,44.19 L219.23,44.49 L220.61,44.79 L221.99,45.09 L223.37,45.39 L224.73,45.69 L226.09,45.99 L227.44,46.28 L228.79,46.58 L230.13,46.88 L231.46,47.18 L232.79,47.48 L234.11,47.78 L235.42,48.08 L236.73,48.38 L238.03,48.68 L239.32,48.98 L240.61,49.28 L241.89,49.58 L243.16,49.88 L244.43,50.18 L245.69,50.48 L246.95,50.78 L248.19,51.08 L249.44,51.38 L250.67,51.68 L251.90,51.99 L253.12,52.29 L254.34,52.59 L255.55,52.89 L256.75,53.19 L257.95,53.49 L259.14,53.79 L260.33,54.09 L261.51,54.39 L262.68,54.69 L263.84,54.99 L265.01,55.29 L266.16,55.60 L267.31,55.90 L268.45,56.20 L269.58,56.50 L270.71,56.80 L271.84,57.10 L272.95,57.40 L274.06,57.70 L275.17,58.01 L276.27,58.31 L277.36,58.61 L278.45,58.91 L279.53,59.21 L280.61,59.51 L281.67,59.81 L282.74,60.12 L283.80,60.42 L284.85,60.72 L285.89,61.02 L286.93,61.32 L287.97,61.62 L288.99,61.93 L290.02,62.23 L291.03,62.53 L292.04,62.83 L293.05,63.13 L294.05,63.44 L295.04,63.74 L296.03,64.04 L297.01,64.34 L297.99,64.64 L298.96,64.94 L299.92,65.25 L300.88,65.55 L301.84,65.85 L302.79,66.15 L303.73,66.45 L304.67,66.76 L305.60,67.06 L306.52,67.36 L307.44,67.66 L308.36,67.96 L309.27,68.26 L310.17,68.57 L311.07,68.87 L311.96,69.17 L312.85,69.47 L313.74,69.77 L314.61,70.07 L315.48,70.38 L316.35,70.68 L317.21,70.98 L318.07,71.28 L318.92,71.58 L319.76,71.88 L320.60,72.18 L321.44,72.49 L322.27,72.79 L323.09,73.09 L323.91,73.39 L324.72,73.69 L325.53,73.99 L326.34,74.29 L327.13,74.59 L327.93,74.89 L328.72,75.19 L329.50,75.49 L330.28,75.79 L331.05,76.09 L331.82,76.39 L332.58,76.69 L333.34,76.99 L334.09,77.29 L334.84,77.59 L335.58,77.89 L336.32,78.19 L337.05,78.49 L337.78,78.79 L338.50,79.09 L339.22,79.39 L339.94,79.69 L340.64,79.99 L341.35,80.29 L342.05,80.59 L342.74,80.88 L343.43,81.18 L344.12,81.48 L344.80,81.78 L345.47,82.08 L346.14,82.37 L346.81,82.67 L347.47,82.97 L348.13,83.26 L348.78,83.56 L349.43,83.86 L350.07,84.15 L350.71,84.45 L351.34,84.75 L351.97,85.04 L352.59,85.34 L353.21,85.63 L353.83,85.93 L354.44,86.22 L355.05,86.51 L355.65,86.81 L356.25,87.10 L356.84,87.40 L357.43,87.69 L358.01,87.98 L358.59,88.27 L359.17,88.57 L359.74,88.86 L360.31,89.15 L360.87,89.44 L361.43,89.73 L361.98,90.02 L362.53,90.31 L363.08,90.60 L363.62,90.89 L364.15,91.18 L364.69,91.47 L365.22,91.76 L365.74,92.04 L366.26,92.33 L366.78,92.62 L367.29,92.90 L367.80,93.19 L368.30,93.47 L368.80,93.76 L369.30,94.04 L369.79,94.32 L370.28,94.61 L370.76,94.89 L371.24,95.17 L371.72,95.45 L372.19,95.73 L372.66,96.01 L373.12,96.29 L373.58,96.57 L374.04,96.85 L374.49,97.13 L374.94,97.40 L375.38,97.68 L375.82,97.95 L376.26,98.23 L376.69,98.50 L377.12,98.77 L377.55,99.04 L377.97,99.31 L378.39,99.58 L378.80,99.85 L379.22,100.12 L379.62,100.39 L380.03,100.66 L380.43,100.92 L380.82,101.19 L381.22,101.45 L381.60,101.71 L381.99,101.97 L382.37,102.23 L382.75,102.49 L383.13,102.75 L383.50,103.01 L383.87,103.26 L384.23,103.52 L384.59,103.77 L384.95,104.02 L385.30,104.27 L385.65,104.52 L386.00,104.77 L386.35,105.01 L386.69,105.26 L387.02,105.50 L387.36,105.74 L387.69,105.98 L388.02,106.22 L388.34,106.46 L388.66,106.69 L388.98,106.93 L389.29,107.16 L389.60,107.39 L389.91,107.62 L390.22,107.84 L390.52,108.07 L390.82,108.29 L391.11,108.51 L391.41,108.73 L391.69,108.94 L391.98,109.16 L392.26,109.37 L392.54,109.58 L392.82,109.78 L393.10,109.99 L393.37,110.19 L393.63,110.39 L393.90,110.59 L394.16,110.78 L394.42,110.97 L394.68,111.16 L394.93,111.35 L395.18,111.53 L395.43,111.71 L395.67,111.89 L395.92,112.06 L396.15,112.23 L396.39,112.40 L396.62,112.56 L396.86,112.72 L397.08,112.88 L397.31,113.04 L397.53,113.19 L397.75,113.33 L397.97,113.47 L398.18,113.61 L398.40,113.75 L398.60,113.88 L398.81,114.00 L399.02,114.12 L399.22,114.24 L399.42,114.35 L399.61,114.46 L399.81,114.56 L400.00,114.66 L400.19,114.75 L400.37,114.84 L400.56,114.92 L400.74,114.99 L400.92,115.06 L401.09,115.13 L401.27,115.19 L401.44,115.24 L401.61,115.28 L401.78,115.32 L401.94,115.35 L402.10,115.38 L402.26,115.40 L402.42,115.41 L402.58,115.41 L402.73,115.41 L402.88,115.39 L403.03,115.37 L403.18,115.34 L403.32,115.31 L403.46,115.28 L403.60,115.28 L403.74,115.26 L403.88,115.24 L404.01,115.21 L404.14,115.17 L404.27,115.12 L404.40,115.07 L404.53,115.00 L404.65,114.93 L404.77,114.84 L404.89,114.75 L405.01,114.64 L405.12,114.53 L405.24,114.40 L405.35,114.26 L405.46,114.11 L405.57,113.95 L405.67,113.78 L405.78,113.59 L405.88,113.39 L405.98,113.18 L406.08,112.95 L406.17,112.71 L406.27,112.45 L406.36,112.17 L406.45,111.88 L406.54,111.57 L406.63,111.25 L406.72,110.90 L406.80,110.54 L406.89,110.16 L406.97,109.75 L407.05,109.33 L407.13,108.88 L407.20,108.41 L407.28,107.91 L407.35,107.39 L407.42,106.85 L407.49,106.27 L407.56,105.67 L407.63,105.04 L407.70,104.38 L407.76,103.68 L407.82,102.95 L407.88,102.19 L407.94,101.39 L408.00,100.55 L408.06,99.68 L408.12,98.76 L408.17,97.79 L408.22,96.78 L408.28,95.73 L408.33,94.62 L408.38,93.46 L408.42,92.24 L408.47,90.97 L408.52,89.64 L408.56,88.24 L408.60,86.77 L408.65,85.24 L408.69,83.63 L408.73,81.94 L408.77,80.16 L408.80,78.31 L408.84,76.35 L408.88,74.31 L408.91,72.16 L408.94,69.90 L408.97,67.52 L409.01,65.03 L409.04,62.40 L409.07,59.64 L409.09,56.73 L409.12,53.67 L409.15,50.45 L409.17,47.05 L409.20,43.47 L409.22,39.68 L409.24,35.69 L409.26,31.46 L409.29,27.00 L409.31,22.27 L409.33,17.27 L409.34,11.97 L409.36,6.34 L409.38,0.37 L409.39,-5.98 L409.41,-12.74 L409.43,-19.93 L409.44,-27.61 L409.45,-35.80 L409.47,-44.55" stroke="#ff7f00" stroke-linecap="square"/>
<path d="M68.87,20.42 L70.95,20.73 L73.02,21.03 L75.08,21.33 L77.13,21.63 L79.18,21.94 L81.21,22.24 L83.24,22.54 L85.26,22.85 L87.27,23.15 L89.28,23.45 L91.27,23.76 L93.26,24.06 L95.24,24.36 L97.21,24.67 L99.17,24.97 L101.12,25.28 L103.07,25.58 L105.01,25.89 L106.94,26.19 L108.86,26.50 L110.78,26.80 L112.68,27.11 L114.58,27.41 L116.47,27.72 L118.35,28.02 L120.23,28.33 L122.10,28.64 L123.96,28.94 L125.81,29.25 L127.65,29.56 L129.48,29.86 L131.31,30.17 L133.13,30.48 L134.94,30.78 L136.75,31.09 L138.54,31.40 L140.33,31.71 L142.11,32.02 L143.89,32.32 L145.65,32.63 L147.41,32.94 L149.16,33.25 L150.90,33.56 L152.64,33.87 L154.36,34.18 L156.08,34.49 L157.80,34.80 L159.50,35.10 L161.20,35.41 L162.89,35.72 L164.57,36.04 L166.24,36.35 L167.91,36.66 L169.57,36.97 L171.22,37.28 L172.87,37.59 L174.50,37.90 L176.13,38.21 L177.75,38.52 L179.37,38.84 L180.98,39.15 L182.58,39.46 L184.17,39.77 L185.76,40.08 L187.34,40.40 L188.91,40.71 L190.47,41.02 L192.03,41.34 L193.58,41.65 L195.12,41.96 L196.65,42.28 L198.18,42.59 L199.70,42.91 L201.22,43.22 L202.72,43.53 L204.22,43.85 L205.72,44.16 L207.20,44.48 L208.68,44.79 L210.15,45.11 L211.62,45.42 L213.07,45.74 L214.52,46.06 L215.97,46.37 L217.40,46.69 L218.83,47.01 L220.26,47.32 L221.67,47.64 L223.08,47.96 L224.48,48.27 L225.88,48.59 L227.27,48.91 L228.65,49.23 L230.02,49.55 L231.39,49.86 L232.75,50.18 L234.11,50.50 L235.46,50.82 L236.80,51.14 L238.13,51.46 L239.46,51.78 L240.78,52.10 L242.09,52.42 L243.40,52.74 L244.70,53.06 L246.00,53.38 L247.29,53.70 L248.57,54.02 L249.84,54.34 L251.11,54.66 L252.37,54.98 L253.63,55.31 L254.88,55.63 L256.12,55.95 L257.36,56.27 L258.59,56.60 L259.81,56.92 L261.03,57.24 L262.24,57.57 L263.44,57.89 L264.64,58.21 L265.83,58.54 L267.02,58.86 L268.19,59.18 L269.37,59.51 L270.53,59.83 L271.69,60.16 L272.85,60.48 L274.00,60.81 L275.14,61.14 L276.27,61.46 L277.40,61.79 L278.52,62.11 L279.64,62.44 L280.75,62.77 L281.86,63.09 L282.96,63.42 L284.05,63.75 L285.14,64.08 L286.22,64.40 L287.29,64.73 L288.36,65.06 L289.42,65.39 L290.48,65.72 L291.53,66.05 L292.57,66.38 L293.61,66.71 L294.65,67.03 L295.67,67.36 L296.69,67.70 L297.71,68.03 L298.72,68.36 L299.72,68.69 L300.72,69.02 L301.71,69.35 L302.70,69.68 L303.68,70.01 L304.66,70.35 L305.63,70.68 L306.59,71.01 L307.55,71.34 L308.50,71.68 L309.45,72.01 L310.39,72.34 L311.32,72.68 L312.25,73.01 L313.18,73.35 L314.10,73.68 L315.01,74.01 L315.92,74.35 L316.82,74.69 L317.72,75.02 L318.61,75.36 L319.49,75.69 L320.37,76.03 L321.25,76.37 L322.12,76.70 L322.98,77.04 L323.84,77.38 L324.70,77.71 L325.54,78.05 L326.39,78.39 L327.22,78.73 L328.06,79.07 L328.88,79.41 L329.71,79.75 L330.52,80.09 L331.33,80.43 L332.14,80.77 L332.94,81.11 L333.74,81.45 L334.53,81.79 L335.31,82.13 L336.09,82.47 L336.87,82.81 L337.64,83.15 L338.40,83.50 L339.16,83.84 L339.92,84.18 L340.67,84.53 L341.41,84.87 L342.15,85.21 L342.89,85.56 L343.62,85.90 L344.34,86.25 L345.06,86.59 L345.78,86.94 L346.49,87.28 L347.20,87.63 L347.90,87.97 L348.59,88.32 L349.28,88.67 L349.97,89.01 L350.65,89.36 L351.33,89.71 L352.00,90.06 L352.67,90.40 L353.33,90.75 L353.99,91.10 L354.64,91.45 L355.29,91.80 L355.93,92.15 L356.57,92.50 L357.21,92.85 L357.84,93.20 L358.46,93.55 L359.08,93.90 L359.70,94.26 L360.31,94.61 L360.92,94.96 L361.52,95.31 L362.12,95.67 L362.71,96.02 L363.30,96.37 L363.89,96.73 L364.47,97.08 L365.04,97.44 L365.62,97.79 L366.18,98.15 L366.75,98.50 L367.31,98.86 L367.86,99.21 L368.41,99.57 L368.96,99.93 L369.50,100.29 L370.04,100.64 L370.57,101.00 L371.10,101.36 L371.62,101.72 L372.14,102.08 L372.66,102.44 L373.17,102.80 L373.68,103.16 L374.18,103.52 L374.68,103.88 L375.18,104.24 L375.67,104.60 L376.16,104.97 L376.64,105.33 L377.12,105.69 L377.60,106.05 L378.07,106.42 L378.54,106.78 L379.00,107.15 L379.46,107.51 L379.92,107.88 L380.37,108.24 L380.82,108.61 L381.26,108.97 L381.70,109.34 L382.14,109.71 L382.57,110.08 L383.00,110.44 L383.42,110.81 L383.84,111.18 L384.26,111.55 L384.68,111.92 L385.09,112.29 L385.49,112.66 L385.90,113.03 L386.30,113.40 L386.69,113.77 L387.08,114.15 L387.47,114.52 L387.86,114.89 L388.24,115.27 L388.61,115.64 L388.99,116.01 L389.36,116.39 L389.73,116.76 L390.09,117.14 L390.45,117.52 L390.81,117.89 L391.16,118.27 L391.51,118.65 L391.85,119.03 L392.20,119.40 L392.54,119.78 L392.87,120.16 L393.21,120.54 L393.54,120.92 L393.86,121.30 L394.18,121.68 L394.50,122.07 L394.82,122.45 L395.13,122.83 L395.44,123.22 L395.75,123.60 L396.05,123.98 L396.35,124.37 L396.65,124.75 L396.94,125.14 L397.24,125.53 L397.52,125.91 L397.81,126.30 L398.09,126.69 L398.37,127.08 L398.64,127.46 L398.92,127.85 L399.19,128.24 L399.45,128.64 L399.71,129.03 L399.98,129.42 L400.23,129.81 L400.49,130.20 L400.74,130.60 L400.99,130.99 L401.23,131.38 L401.48,131.78 L401.72,132.18 L401.95,132.57 L402.19,132.97 L402.42,133.37 L402.65,133.76 L402.88,134.16 L403.10,134.56 L403.32,134.96 L403.54,135.36 L403.75,135.76 L403.97,136.17 L404.18,136.57 L404.38,136.97 L404.59,137.37 L404.79,137.78 L404.99,138.18 L405.19,138.59 L405.38,139.00 L405.57,139.40 L405.76,139.81 L405.95,140.22 L406.13,140.63 L406.32,141.04 L406.50,141.45 L406.67,141.86 L406.85,142.27 L407.02,142.68 L407.19,143.10 L407.36,143.51 L407.52,143.92 L407.68,144.34 L407.85,144.76 L408.00,145.17 L408.16,145.59 L408.31,146.01 L408.46,146.43 L408.61,146.85 L408.76,147.27 L408.90,147.69 L409.05,148.11 L409.19,148.54 L409.33,148.96 L409.46,149.39 L409.59,149.81 L409.73,150.24 L409.86,150.66 L409.98,151.09 L410.11,151.52 L410.23,151.95 L410.35,152.38 L410.47,152.82 L410.59,153.25 L410.71,153.68 L410.82,154.12 L410.93,154.55 L411.04,154.99 L411.15,155.43 L411.25,155.86 L411.36,156.30 L411.46,156.74 L411.56,157.18 L411.66,157.63 L411.76,158.07 L411.85,158.51 L411.94,158.96 L412.03,159.41 L412.12,159.85 L412.21,160.30 L412.30,160.75 L412.38,161.20 L412.47,161.66 L412.55,162.11 L412.63,162.56 L412.70,163.02 L412.78,163.48 L412.86,163.93 L412.93,164.39 L413.00,164.85 L413.07,165.31 L413.14,165.78 L413.21,166.24 L413.27,166.71 L413.33,167.17 L413.40,167.64 L413.46,168.11 L413.52,168.58 L413.58,169.05 L413.63,169.53 L413.69,170.00 L413.74,170.48 L413.80,170.96 L413.85,171.44 L413.90,171.92 L413.95,172.40 L413.99,172.89 L414.04,173.37 L414.09,173.86 L414.13,174.35 L414.17,174.84 L414.21,175.33 L414.25,175.83 L414.29,176.32 L414.33,176.82 L414.37,177.32 L414.40,177.82 L414.44,178.33 L414.47,178.83 L414.51,179.34 L414.54,179.85 L414.57,180.36 L414.60,180.88 L414.63,181.39 L414.65,181.91 L414.68,182.43 L414.71,182.95 L414.73,183.48 L414.76,184.01 L414.78,184.54 L414.80,185.07 L414.82,185.61 L414.84,186.15 L414.86,186.69 L414.88,187.23 L414.90,187.78 L414.92,188.33 L414.93,188.88 L414.95,189.44 L414.96,189.99 L414.98,190.56 L414.99,191.12 L415.00,191.69 L415.02,192.27 L415.03,192.84 L415.04,193.42 L415.05,194.01 L415.06,194.60 L415.07,195.19 L415.08,195.79 L415.09,196.39 L415.09,197.00 L415.10,197.61 L415.11,198.23 L415.12,198.85 L415.12,199.48 L415.13,200.12 L415.13,200.76 L415.14,201.41 L415.14,202.06 L415.14,202.73 L415.15,203.40 L415.15,204.08 L415.15,204.76 L415.16,205.46 L415.16,206.17 L415.16,206.89 L415.16,207.62 L415.16,208.37 L415.17,209.13 L415.17,209.90 L415.17,210.69 L415.17,211.51 L415.17,212.34 L415.17,213.21 L415.17,214.10 L415.17,215.03 L415.17,216.01 L415.17,217.05 L415.17,218.17 L415.17,219.39 L415.17,220.06 L415.17,221.40" stroke="#000" stroke-dasharray="7.4 3.2" stroke-dashoffset="0.7"/>
</g>
<g stroke="#000" fill="none"><path d="M68.87,232.4 v-8.8 M68.87,9.5 v8.8" stroke-width="1.3"/><path d="M138.13,232.4 v-8.8 M138.13,9.5 v8.8" stroke-width="1.3"/><path d="M207.39,232.4 v-8.8 M207.39,9.5 v8.8" stroke-width="1.3"/><path d="M276.65,232.4 v-8.8 M276.65,9.5 v8.8" stroke-width="1.3"/><path d="M345.91,232.4 v-8.8 M345.91,9.5 v8.8" stroke-width="1.3"/><path d="M415.17,232.4 v-8.8 M415.17,9.5 v8.8" stroke-width="1.3"/><path d="M82.72,232.4 v-4.3 M82.72,9.5 v4.3" stroke-width="1.2"/><path d="M96.57,232.4 v-4.3 M96.57,9.5 v4.3" stroke-width="1.2"/><path d="M110.43,232.4 v-4.3 M110.43,9.5 v4.3" stroke-width="1.2"/><path d="M124.28,232.4 v-4.3 M124.28,9.5 v4.3" stroke-width="1.2"/><path d="M151.98,232.4 v-4.3 M151.98,9.5 v4.3" stroke-width="1.2"/><path d="M165.83,232.4 v-4.3 M165.83,9.5 v4.3" stroke-width="1.2"/><path d="M179.69,232.4 v-4.3 M179.69,9.5 v4.3" stroke-width="1.2"/><path d="M193.54,232.4 v-4.3 M193.54,9.5 v4.3" stroke-width="1.2"/><path d="M221.24,232.4 v-4.3 M221.24,9.5 v4.3" stroke-width="1.2"/><path d="M235.09,232.4 v-4.3 M235.09,9.5 v4.3" stroke-width="1.2"/><path d="M248.95,232.4 v-4.3 M248.95,9.5 v4.3" stroke-width="1.2"/><path d="M262.80,232.4 v-4.3 M262.80,9.5 v4.3" stroke-width="1.2"/><path d="M290.50,232.4 v-4.3 M290.50,9.5 v4.3" stroke-width="1.2"/><path d="M304.35,232.4 v-4.3 M304.35,9.5 v4.3" stroke-width="1.2"/><path d="M318.21,232.4 v-4.3 M318.21,9.5 v4.3" stroke-width="1.2"/><path d="M332.06,232.4 v-4.3 M332.06,9.5 v4.3" stroke-width="1.2"/><path d="M359.76,232.4 v-4.3 M359.76,9.5 v4.3" stroke-width="1.2"/><path d="M373.61,232.4 v-4.3 M373.61,9.5 v4.3" stroke-width="1.2"/><path d="M387.47,232.4 v-4.3 M387.47,9.5 v4.3" stroke-width="1.2"/><path d="M401.32,232.4 v-4.3 M401.32,9.5 v4.3" stroke-width="1.2"/><path d="M61.8,221.40 h8.8 M422.8,221.40 h-8.8" stroke-width="1.3"/><path d="M61.8,187.60 h8.8 M422.8,187.60 h-8.8" stroke-width="1.3"/><path d="M61.8,153.80 h8.8 M422.8,153.80 h-8.8" stroke-width="1.3"/><path d="M61.8,120.00 h8.8 M422.8,120.00 h-8.8" stroke-width="1.3"/><path d="M61.8,86.20 h8.8 M422.8,86.20 h-8.8" stroke-width="1.3"/><path d="M61.8,52.40 h8.8 M422.8,52.40 h-8.8" stroke-width="1.3"/><path d="M61.8,18.60 h8.8 M422.8,18.60 h-8.8" stroke-width="1.3"/><path d="M61.8,212.95 h4.3 M422.8,212.95 h-4.3" stroke-width="1.2"/><path d="M61.8,204.50 h4.3 M422.8,204.50 h-4.3" stroke-width="1.2"/><path d="M61.8,196.05 h4.3 M422.8,196.05 h-4.3" stroke-width="1.2"/><path d="M61.8,179.15 h4.3 M422.8,179.15 h-4.3" stroke-width="1.2"/><path d="M61.8,170.70 h4.3 M422.8,170.70 h-4.3" stroke-width="1.2"/><path d="M61.8,162.25 h4.3 M422.8,162.25 h-4.3" stroke-width="1.2"/><path d="M61.8,145.35 h4.3 M422.8,145.35 h-4.3" stroke-width="1.2"/><path d="M61.8,136.90 h4.3 M422.8,136.90 h-4.3" stroke-width="1.2"/><path d="M61.8,128.45 h4.3 M422.8,128.45 h-4.3" stroke-width="1.2"/><path d="M61.8,111.55 h4.3 M422.8,111.55 h-4.3" stroke-width="1.2"/><path d="M61.8,103.10 h4.3 M422.8,103.10 h-4.3" stroke-width="1.2"/><path d="M61.8,94.65 h4.3 M422.8,94.65 h-4.3" stroke-width="1.2"/><path d="M61.8,77.75 h4.3 M422.8,77.75 h-4.3" stroke-width="1.2"/><path d="M61.8,69.30 h4.3 M422.8,69.30 h-4.3" stroke-width="1.2"/><path d="M61.8,60.85 h4.3 M422.8,60.85 h-4.3" stroke-width="1.2"/><path d="M61.8,43.95 h4.3 M422.8,43.95 h-4.3" stroke-width="1.2"/><path d="M61.8,35.50 h4.3 M422.8,35.50 h-4.3" stroke-width="1.2"/><path d="M61.8,27.05 h4.3 M422.8,27.05 h-4.3" stroke-width="1.2"/></g>
<rect x="61.8" y="9.5" width="361.0" height="222.9" fill="none" stroke="#000" stroke-width="1.4"/>
<text x="58.8" y="228.50" font-size="16" text-anchor="end" textLength="21.4" lengthAdjust="spacingAndGlyphs">0.0</text>
<text x="58.8" y="194.70" font-size="16" text-anchor="end" textLength="21.4" lengthAdjust="spacingAndGlyphs">0.2</text>
<text x="58.8" y="160.90" font-size="16" text-anchor="end" textLength="21.4" lengthAdjust="spacingAndGlyphs">0.4</text>
<text x="58.8" y="127.10" font-size="16" text-anchor="end" textLength="21.4" lengthAdjust="spacingAndGlyphs">0.6</text>
<text x="58.8" y="93.30" font-size="16" text-anchor="end" textLength="21.4" lengthAdjust="spacingAndGlyphs">0.8</text>
<text x="58.8" y="59.50" font-size="16" text-anchor="end" textLength="21.4" lengthAdjust="spacingAndGlyphs">1.0</text>
<text x="58.8" y="25.70" font-size="16" text-anchor="end" textLength="21.4" lengthAdjust="spacingAndGlyphs">1.2</text>
<text x="53.67" y="255.1" font-size="16" textLength="32.0" lengthAdjust="spacingAndGlyphs">−0.5</text>
<text x="122.93" y="255.1" font-size="16" textLength="32.0" lengthAdjust="spacingAndGlyphs">−0.4</text>
<text x="192.19" y="255.1" font-size="16" textLength="32.0" lengthAdjust="spacingAndGlyphs">−0.3</text>
<text x="261.45" y="255.1" font-size="16" textLength="32.0" lengthAdjust="spacingAndGlyphs">−0.2</text>
<text x="330.71" y="255.1" font-size="16" textLength="32.0" lengthAdjust="spacingAndGlyphs">−0.1</text>
<text x="404.67" y="255.1" font-size="16" textLength="21.0" lengthAdjust="spacingAndGlyphs">0.0</text>
<text x="225.3" y="286.2" font-size="20" class="it" textLength="10.3" lengthAdjust="spacingAndGlyphs">λ</text>
<text x="237.0" y="286.2" font-size="20" class="it" textLength="14.6" lengthAdjust="spacingAndGlyphs">R</text>
<text x="251.8" y="276.6" font-size="14">2</text>
<g transform="translate(19.3,128.8) rotate(-90)"><text x="0" y="0" font-size="17.5" class="it" textLength="9.2" lengthAdjust="spacingAndGlyphs">v</text><text x="9.6" y="4.4" font-size="14" class="it">c</text></g>
<text x="246.4" y="32.7" font-size="10" fill="#989898" textLength="116.4" lengthAdjust="spacingAndGlyphs">Acausal Region (<tspan class="it">v</tspan><tspan class="it" font-size="7" dy="1.5">c</tspan><tspan dy="-1.5">&gt;1)</tspan></text>
<text x="165.7" y="73" font-size="10" fill="#989898" textLength="111.2" lengthAdjust="spacingAndGlyphs">Causal Region (<tspan class="it">v</tspan><tspan class="it" font-size="7" dy="1.5">c</tspan><tspan dy="-1.5">&lt;1)</tspan></text>
<g transform="translate(349.0,76.4) scale(0.0140)" fill="#000" stroke="#000" stroke-width="26" stroke-linejoin="round"><path d="M14,-38 a36,36 0 1,0 72,0 a36,36 0 1,0 -72,0 Z"/><path d="M45,-8 C150,-15 235,-260 325,-715 L360,-712 C270,-240 185,25 52,22 Z"/><path d="M320,-705 L412,-728 L640,-95 L603,-28 L572,-40 Z"/><path d="M588,-48 L628,-62 L1064,-700 L1034,-714 Z"/><path d="M978,-692 L1078,-714 C1035,-500 1005,-250 1032,-95 C1042,-52 1080,-45 1118,-88 L1136,-68 C1090,2 1010,18 974,-40 C930,-120 950,-450 978,-692 Z"/></g>
<text x="365.8" y="77.8" font-size="9.6" textLength="20.8" lengthAdjust="spacingAndGlyphs" class="b">BTZ</text>
<text x="390.5" y="76.5" font-size="16.5" textLength="10.6" lengthAdjust="spacingAndGlyphs">&gt;</text>
<text x="405.6" y="76.4" font-size="14" textLength="6.8" lengthAdjust="spacingAndGlyphs">0</text>
<text x="261.4" y="141.3" font-size="14" textLength="9.8" lengthAdjust="spacingAndGlyphs">−</text>
<text x="271.2" y="141.3" font-size="14" textLength="8.4" lengthAdjust="spacingAndGlyphs">1</text>
<text x="283.5" y="141.4" font-size="16.5" textLength="10.2" lengthAdjust="spacingAndGlyphs">&lt;</text>
<g transform="translate(297.4,141.3) scale(0.0140)" fill="#000" stroke="#000" stroke-width="26" stroke-linejoin="round"><path d="M14,-38 a36,36 0 1,0 72,0 a36,36 0 1,0 -72,0 Z"/><path d="M45,-8 C150,-15 235,-260 325,-715 L360,-712 C270,-240 185,25 52,22 Z"/><path d="M320,-705 L412,-728 L640,-95 L603,-28 L572,-40 Z"/><path d="M588,-48 L628,-62 L1064,-700 L1034,-714 Z"/><path d="M978,-692 L1078,-714 C1035,-500 1005,-250 1032,-95 C1042,-52 1080,-45 1118,-88 L1136,-68 C1090,2 1010,18 974,-40 C930,-120 950,-450 978,-692 Z"/></g>
<text x="314.3" y="142.6" font-size="9.6" textLength="20.8" lengthAdjust="spacingAndGlyphs" class="b">BTZ</text>
<text x="340.2" y="143.0" font-size="20" textLength="10.8" lengthAdjust="spacingAndGlyphs">≤</text>
<text x="355" y="141.3" font-size="14" textLength="7" lengthAdjust="spacingAndGlyphs">0</text>
<g transform="translate(80.6,90.7) scale(0.0170)" fill="#000" stroke="#000" stroke-width="26" stroke-linejoin="round"><path d="M546,-481 C575,-520 585,-590 575,-640 C540,-710 450,-740 372,-735 C200,-725 40,-520 35,-283 C32,-110 110,12 223,12 C360,12 480,-70 548,-190 L520,-200 C460,-100 350,-28 245,-28 C170,-28 138,-130 140,-283 C145,-480 250,-700 372,-700 C450,-700 520,-680 540,-625 C548,-590 540,-530 518,-492 Z"/></g>
<text x="90.3" y="93.0" font-size="11.5" textLength="6.3" lengthAdjust="spacingAndGlyphs">2</text>
<path d="M102.3,85.0 h11.6 M102.3,87.6 h11.6" stroke="#000" stroke-width="0.9" fill="none"/>
<g transform="translate(119.4,91.2) scale(0.0170)" fill="#000" stroke="#000" stroke-width="26" stroke-linejoin="round"><path d="M14,-38 a36,36 0 1,0 72,0 a36,36 0 1,0 -72,0 Z"/><path d="M45,-8 C150,-15 235,-260 325,-715 L360,-712 C270,-240 185,25 52,22 Z"/><path d="M320,-705 L412,-728 L640,-95 L603,-28 L572,-40 Z"/><path d="M588,-48 L628,-62 L1064,-700 L1034,-714 Z"/><path d="M978,-692 L1078,-714 C1035,-500 1005,-250 1032,-95 C1042,-52 1080,-45 1118,-88 L1136,-68 C1090,2 1010,18 974,-40 C930,-120 950,-450 978,-692 Z"/></g>
<line x1="76.6" y1="103.30" x2="123.2" y2="103.30" stroke="#000" stroke-width="2" stroke-dasharray="7.0 3.1 2.5 3.2" stroke-dashoffset="10.1"/>
<text x="130.2" y="109.7" font-size="14" textLength="37.8" lengthAdjust="spacingAndGlyphs">0.5208</text>
<line x1="76.6" y1="123.43" x2="123.2" y2="123.43" stroke="#0000ff" stroke-width="2"/>
<text x="130.2" y="129.83" font-size="14" textLength="31.0" lengthAdjust="spacingAndGlyphs">0.516</text>
<line x1="76.6" y1="143.56" x2="123.2" y2="143.56" stroke="#00ff00" stroke-width="2"/>
<text x="130.2" y="149.96" font-size="14" textLength="31.0" lengthAdjust="spacingAndGlyphs">0.512</text>
<line x1="76.6" y1="163.69" x2="123.2" y2="163.69" stroke="#00ffff" stroke-width="2"/>
<text x="130.2" y="170.09" font-size="14" textLength="31.0" lengthAdjust="spacingAndGlyphs">0.508</text>
<line x1="76.6" y1="183.82" x2="123.2" y2="183.82" stroke="#ff7f00" stroke-width="2"/>
<text x="130.2" y="190.22" font-size="14" textLength="31.0" lengthAdjust="spacingAndGlyphs">0.504</text>
<line x1="76.6" y1="203.95" x2="123.2" y2="203.95" stroke="#000" stroke-width="2" stroke-dasharray="7.4 3.2" stroke-dashoffset="0"/>
<text x="130.2" y="210.35" font-size="14" textLength="30.5" lengthAdjust="spacingAndGlyphs">0.500</text>
<text x="167.0" y="210.35" font-size="14">(</text>
<g transform="translate(171.4,210.35) scale(0.0140)" fill="#000" stroke="#000" stroke-width="26" stroke-linejoin="round"><path d="M14,-38 a36,36 0 1,0 72,0 a36,36 0 1,0 -72,0 Z"/><path d="M45,-8 C150,-15 235,-260 325,-715 L360,-712 C270,-240 185,25 52,22 Z"/><path d="M320,-705 L412,-728 L640,-95 L603,-28 L572,-40 Z"/><path d="M588,-48 L628,-62 L1064,-700 L1034,-714 Z"/><path d="M978,-692 L1078,-714 C1035,-500 1005,-250 1032,-95 C1042,-52 1080,-45 1118,-88 L1136,-68 C1090,2 1010,18 974,-40 C930,-120 950,-450 978,-692 Z"/></g>
<text x="188.8" y="211.75" font-size="9.6" textLength="20.3" lengthAdjust="spacingAndGlyphs" class="b">BTZ</text>
<text x="215.2" y="210.35" font-size="14" textLength="9.1" lengthAdjust="spacingAndGlyphs">=</text>
<text x="227.9" y="210.35" font-size="14" textLength="6.4" lengthAdjust="spacingAndGlyphs">0</text>
<text x="235.3" y="210.35" font-size="14">)</text>
</svg></body></html>
